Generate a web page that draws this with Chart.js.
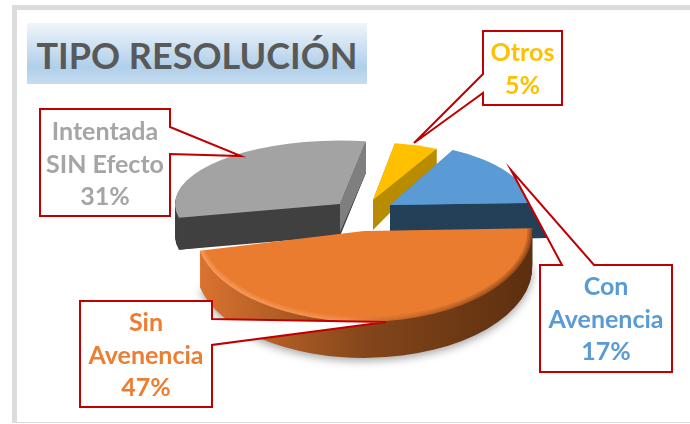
<!DOCTYPE html>
<html>
<head>
<meta charset="utf-8">
<script src="https://cdn.jsdelivr.net/npm/chart.js@4"></script>
<style>
    html, body { margin: 0; padding: 0; background: #fff; overflow: hidden; }
    #frame { position: absolute; left: 12px; top: 5px; width: 680px; height: 412px; border: solid #dcdcdc; border-width: 5px 0 1px 5px; }
    #title { position: absolute; left: 27px; top: 23px; width: 340px; height: 61px; text-align: center;
        font: bold 36px Lato; line-height: 65px; color: #595959;
        background: linear-gradient(#f0f5fb 0%, #b0cfea 72%, #c6dcf0 100%); }
    canvas { position: absolute; left: 0; top: 0; }
</style>
</head>
<body>
<div id="frame"></div>
<canvas id="grafico" width="690" height="424"></canvas>
<div id="title">TIPO RESOLUCIÓN</div>
<script>
"use strict";
const categories = ["Otros", "Con Avenencia", "Sin Avenencia", "Intentada SIN Efecto"];
const values = [5, 17, 47, 31];
const labelLines = [["Otros"], ["Con", "Avenencia"], ["Sin", "Avenencia"], ["Intentada", "SIN Efecto"]];

// look of the slices, same order as categories
const topColors = ["#ffc000", "#5b9bd5", "#ea7c30", "#a3a3a3"];
const textColors = ["#ffc000", "#5b9bd5", "#ed7d31", "#a5a5a5"];
const startCutColors = ["#b98c00", "#4a80b5", "#b8591f", "#404040"];
const endCutColors = ["#b98c00", "#243f58", "#b8591f", "#7f7f7f"];
const rimColors = ["#b98c00", "#243f58", "#b8591f", "#404040"];
const shiftX = [9, 26, 0, -24];
const shiftY = [-10, -5, 21, -6];
const radiusFactor = [0.85, 0.84, 1.02, 1];
const squash = [0.41, 0.445, 0.54, 0.385];
const tipDepth = [30, 35, 36, 28];
const rimDepth = [17, 35, 36, 32];
const rimSlant = [0, 18, 0, 0];
const drawOrder = [3, 0, 1, 2];

// callouts: box (left, top, right, bottom) and pointer (base, tip, base)
const callouts = [
    { box: [483, 31, 562, 105], ptr: [[483, 74], [414, 143], [483, 93]], lines: [53, 86] },
    { box: [540, 265, 672, 372], ptr: [[594, 265], [511, 170], [562, 265]], lines: [287, 320, 352] },
    { box: [80, 301, 212, 407], ptr: [[212, 319], [386, 322], [212, 345]], lines: [323, 356, 388] },
    { box: [40, 109, 170, 216], ptr: [[170, 127], [241, 156], [170, 154]], lines: [132, 165, 197] }
];

function sliceGeom(i, arc) {
    return {
        cx: arc.x + shiftX[i],
        cy: arc.y + shiftY[i],
        r: arc.outerRadius * radiusFactor[i],
        k: squash[i],
        a0: arc.startAngle,
        a1: arc.endAngle
    };
}

function slicePath(ctx, g, dx, dy) {
    ctx.beginPath();
    ctx.moveTo(g.cx + dx, g.cy + dy);
    ctx.ellipse(g.cx + dx, g.cy + dy, g.r, g.r * g.k, 0, g.a0, g.a1);
    ctx.closePath();
}

function rimStyle(ctx, i, g) {
    if (i == 2) {
        let grad = ctx.createLinearGradient(g.cx - g.r, 0, g.cx + g.r, 0);
        grad.addColorStop(0, "#dc7430");
        grad.addColorStop(0.5, "#84461a");
        grad.addColorStop(1, "#5c2f10");
        return grad;
    }
    if (i == 1) {
        let grad = ctx.createLinearGradient(0, g.cy - 2, 0, g.cy + 3);
        grad.addColorStop(0, "#4a80b5");
        grad.addColorStop(1, "#243f58");
        return grad;
    }
    return rimColors[i];
}

function cutFace(ctx, g, angle, dTip, dOut, slant, color) {
    let px = g.cx + Math.cos(angle) * g.r;
    let py = g.cy + Math.sin(angle) * g.r * g.k;
    ctx.fillStyle = color;
    ctx.beginPath();
    ctx.moveTo(g.cx, g.cy);
    ctx.lineTo(px, py);
    ctx.lineTo(px + slant, py + dOut);
    ctx.lineTo(g.cx, g.cy + dTip);
    ctx.closePath();
    ctx.fill();
}

function bevel(ctx, g) {
    let grad = ctx.createLinearGradient(g.cx - g.r, 0, g.cx + g.r, 0);
    grad.addColorStop(0, "rgba(255,176,120,1)");
    grad.addColorStop(0.45, "rgba(255,176,120,0.6)");
    grad.addColorStop(0.6, "rgba(70,30,5,0.25)");
    grad.addColorStop(1, "rgba(70,30,5,0.9)");
    ctx.save();
    slicePath(ctx, g, 0, 0);
    ctx.clip();
    ctx.strokeStyle = grad;
    for (const w of [10, 6, 3]) {
        ctx.globalAlpha = 0.25;
        ctx.lineWidth = w;
        ctx.beginPath();
        ctx.ellipse(g.cx, g.cy, g.r, g.r * g.k, 0, g.a0, g.a1);
        ctx.stroke();
    }
    ctx.restore();
}

const pie3d = {
    id: "pie3d",
    beforeDatasetsDraw(chart) {
        const ctx = chart.ctx;
        const arcs = chart.getDatasetMeta(0).data;
        for (const i of drawOrder) {
            const g = sliceGeom(i, arcs[i]);
            ctx.save();
            ctx.fillStyle = rimStyle(ctx, i, g);
            if (i == 2) {
                ctx.shadowColor = "rgba(0,0,0,0.35)";
                ctx.shadowBlur = 9;
                ctx.shadowOffsetY = 3;
            }
            for (let d = rimDepth[i]; d > 0; d--) {
                slicePath(ctx, g, rimSlant[i] * d / rimDepth[i], d);
                ctx.fill();
                ctx.shadowColor = "transparent";
            }
            if (i != 2) {
                cutFace(ctx, g, g.a0, tipDepth[i], rimDepth[i], rimSlant[i], startCutColors[i]);
                cutFace(ctx, g, g.a1, tipDepth[i], rimDepth[i], rimSlant[i], endCutColors[i]);
            }
            ctx.fillStyle = arcs[i].options.backgroundColor;
            slicePath(ctx, g, 0, 0);
            ctx.fill();
            if (i == 2) bevel(ctx, g);
            ctx.restore();
        }
        return false;
    },
    afterDraw(chart) {
        const ctx = chart.ctx;
        callouts.forEach(function (c, i) {
            const [l, t, r, b] = c.box;
            const [p1, p2, p3] = c.ptr;
            const pts = [];
            // walk the box clockwise and put the pointer on the side it leaves from
            if (p1[1] == t) pts.push([l, t], p3, p2, p1, [r, t], [r, b], [l, b]);
            else if (p1[0] == r) pts.push([l, t], [r, t], p1, p2, p3, [r, b], [l, b]);
            else pts.push([l, t], [r, t], [r, b], [l, b], p3, p2, p1);
            ctx.save();
            ctx.beginPath();
            pts.forEach((q, n) => n ? ctx.lineTo(q[0], q[1]) : ctx.moveTo(q[0], q[1]));
            ctx.closePath();
            ctx.fillStyle = "#fff";
            ctx.fill();
            ctx.strokeStyle = "#c00000";
            ctx.lineWidth = 2;
            ctx.lineJoin = "miter";
            ctx.stroke();
            ctx.fillStyle = textColors[i];
            ctx.font = "bold 25px Lato";
            ctx.textAlign = "center";
            ctx.textBaseline = "middle";
            const texts = labelLines[i].concat(values[i] + "%");
            texts.forEach((s, n) => ctx.fillText(s, (l + r) / 2, c.lines[n]));
            ctx.restore();
        });
    }
};

new Chart(document.getElementById("grafico"), {
    type: "pie",
    data: {
        labels: categories,
        datasets: [{
            data: values,
            backgroundColor: topColors,
            borderWidth: 0,
            radius: 165
        }]
    },
    options: {
        responsive: false,
        animation: false,
        rotation: 9,
        layout: { padding: { left: 38, right: 0, top: 0, bottom: 4 } },
        plugins: { legend: { display: false }, tooltip: { enabled: false }, title: { display: false } }
    },
    plugins: [pie3d]
});
</script>
</body>
</html>
